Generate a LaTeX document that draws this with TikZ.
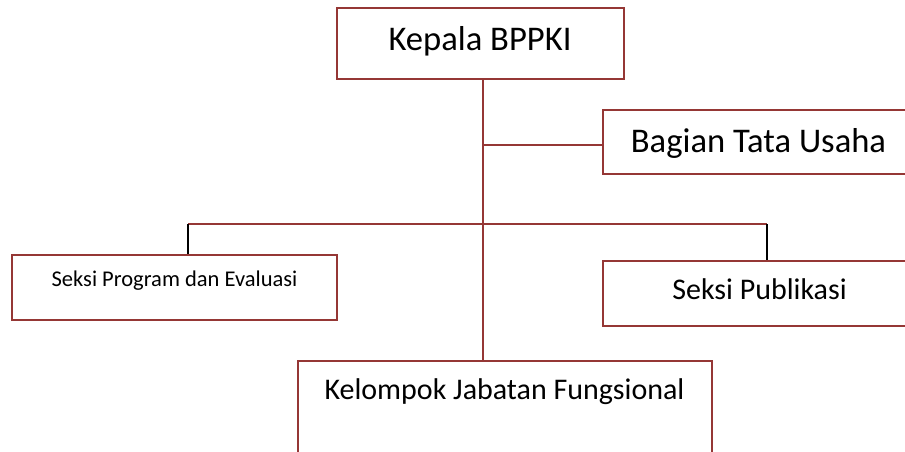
\documentclass[tikz,border=0pt]{standalone}
\usepackage{fontspec}
\setmainfont{Carlito}
\definecolor{boxred}{HTML}{953735}
\begin{document}
\begin{tikzpicture}[x=1pt,y=-1pt,
  orgbox/.style={draw=boxred,line width=1.8pt,rectangle,inner sep=0pt,minimum width=#1},
  boxline/.style={draw=boxred,line width=1.8pt},
  blackline/.style={draw=black,line width=1.5pt},
  lbl/.style={anchor=base,inner sep=0pt,text=black}]
\useasboundingbox (0,0) rectangle (905,451);
\clip (0,0) rectangle (905,451);
% boxes
\node[orgbox=287pt,minimum height=71pt] (kepala) at (480.5,43.5) {};
\node[orgbox=312pt,minimum height=64pt] (bagian) at (759,142) {};
\node[orgbox=312pt,minimum height=65pt] (publik) at (759,293.5) {};
\node[orgbox=325pt,minimum height=65pt] (program) at (174.5,287.5) {};
\node[orgbox=414pt,minimum height=109pt] (kelompok) at (505,415.5) {};
% texts
\node[lbl,font=\fontsize{34.6}{40}\selectfont] (tkepala) at (480,50) {Kepala BPPKI};
\node[lbl,font=\fontsize{34.6}{40}\selectfont] (tbagian) at (758.5,152) {Bagian Tata Usaha};
\node[lbl,font=\fontsize{30}{36}\selectfont] (tpublik) at (759.5,299) {Seksi Publikasi};
\node[lbl,font=\fontsize{30}{36}\selectfont] (tkelompok) at (504.5,399) {Kelompok Jabatan Fungsional};
\node[lbl,font=\fontsize{22.5}{27}\selectfont] (tprogram) at (174.5,286) {Seksi Program dan Evaluasi};
% connectors
\coordinate (jb) at (483,145);
\coordinate (jh) at (483,224);
\coordinate (hl) at (188,224);
\coordinate (hr) at (767,224);
\draw[boxline] (kepala.south -| jb) -- (kelompok.north -| jb);
\draw[boxline] (jb) -- (bagian.west |- jb);
\draw[boxline] (hl) -- (hr);
\draw[blackline] (hl) -- (program.north -| hl);
\draw[blackline] (hr) -- (publik.north -| hr);
\end{tikzpicture}
\end{document}
